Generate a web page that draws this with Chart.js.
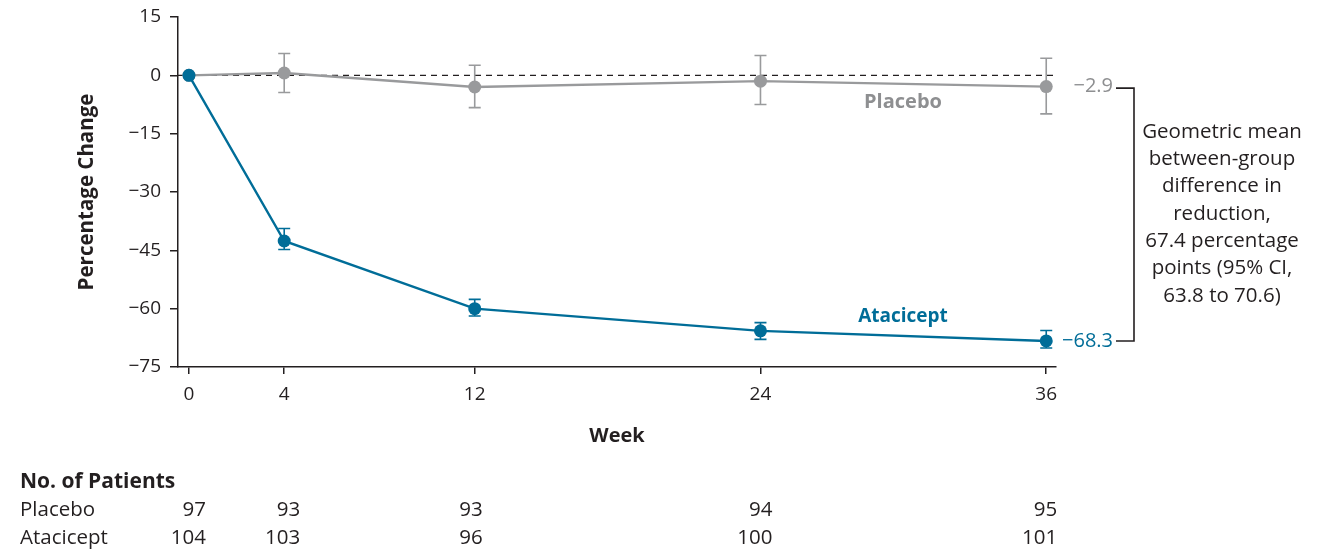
<!DOCTYPE html>
<html>
<head>
<meta charset="utf-8">
<script src="https://cdn.jsdelivr.net/npm/chart.js@4.4.1/dist/chart.umd.min.js"></script>
<style>
  html, body { margin: 0; padding: 0; background: #fff; }
  #wrap { width: 1342px; height: 555px; position: relative; }
</style>
</head>
<body>
<div id="wrap"><canvas id="chart"></canvas></div>
<script>
const weeks = [0, 4, 12, 24, 36];
const yTicks = [15, 0, -15, -30, -45, -60, -75];

const placeboMean = [0, 0.6, -3.0, -1.5, -2.9];
const placeboLow = [0, -4.4, -8.3, -7.5, -9.9];
const placeboHigh = [0, 5.6, 2.6, 5.1, 4.4];

const ataciceptMean = [0, -42.6, -60.0, -65.7, -68.3];
const ataciceptLow = [0, -44.8, -61.9, -67.9, -70.1];
const ataciceptHigh = [0, -39.4, -57.6, -63.6, -65.6];

const placeboN = [97, 93, 93, 94, 95];
const ataciceptN = [104, 103, 96, 100, 101];

const noteLines = [
  "Geometric mean",
  "between-group",
  "difference in",
  "reduction,",
  "67.4 percentage",
  "points (95% CI,",
  "63.8 to 70.6)",
];

const GRAY = "#999a9c";
const GRAY_TEXT = "#8e8f91";
const BLUE = "#006d98";
const INK = "#231f20";
const FONT = "'Open Sans', 'DejaVu Sans', sans-serif";

// right edge of each patient-count column, relative to its tick
const countShift = [17, 16, 8, 12, 11];

const minus = (v) => String(v).replace("-", "\u2212");

const extras = {
  id: "extras",
  beforeDatasetsDraw(chart) {
    const { ctx, chartArea, scales } = chart;
    const x = scales.x, y = scales.y;
    // dashed zero line
    ctx.save();
    ctx.strokeStyle = INK;
    ctx.lineWidth = 1.4;
    ctx.setLineDash([6, 5]);
    ctx.beginPath();
    ctx.moveTo(chartArea.left, y.getPixelForValue(0));
    ctx.lineTo(chartArea.right, y.getPixelForValue(0));
    ctx.stroke();
    ctx.restore();

    // error bars
    const bars = (low, high, color) => {
      ctx.save();
      ctx.strokeStyle = color;
      ctx.lineWidth = 1.6;
      weeks.forEach((w, i) => {
        if (low[i] === high[i]) return;
        const px = x.getPixelForValue(w);
        const y1 = y.getPixelForValue(low[i]);
        const y2 = y.getPixelForValue(high[i]);
        ctx.beginPath();
        ctx.moveTo(px, y1); ctx.lineTo(px, y2);
        ctx.moveTo(px - 6, y1); ctx.lineTo(px + 6, y1);
        ctx.moveTo(px - 6, y2); ctx.lineTo(px + 6, y2);
        ctx.stroke();
      });
      ctx.restore();
    };
    bars(placeboLow, placeboHigh, GRAY);
    bars(ataciceptLow, ataciceptHigh, BLUE);
  },
  afterDraw(chart) {
    const { ctx, chartArea, scales } = chart;
    const x = scales.x, y = scales.y;
    ctx.save();

    // y axis title
    ctx.fillStyle = INK;
    ctx.font = `bold 20.5px ${FONT}`;
    ctx.textAlign = "center";
    ctx.textBaseline = "middle";
    ctx.save();
    ctx.translate(87, (chartArea.top + chartArea.bottom) / 2);
    ctx.rotate(-Math.PI / 2);
    ctx.fillText("Percentage Change", 0, 0);
    ctx.restore();

    // x axis title
    ctx.font = `bold 20px ${FONT}`;
    ctx.fillText("Week", (chartArea.left + chartArea.right) / 2, 436);

    // series labels
    ctx.fillStyle = GRAY_TEXT;
    ctx.fillText("Placebo", 903, 102);
    ctx.fillStyle = BLUE;
    ctx.font = `bold 19px ${FONT}`;
    ctx.fillText("Atacicept", 903, 317);

    // end values
    const last = weeks.length - 1;
    const yP = y.getPixelForValue(placeboMean[last]);
    const yA = y.getPixelForValue(ataciceptMean[last]);
    ctx.font = `20px ${FONT}`;
    ctx.textAlign = "right";
    ctx.fillStyle = GRAY_TEXT;
    ctx.fillText(minus(placeboMean[last].toFixed(1)), 1113, yP);
    ctx.fillStyle = BLUE;
    ctx.fillText(minus(ataciceptMean[last].toFixed(1)), 1113, yA);

    // bracket
    ctx.strokeStyle = INK;
    ctx.lineWidth = 1.6;
    ctx.beginPath();
    ctx.moveTo(1116, yP + 1.5); ctx.lineTo(1134, yP + 1.5);
    ctx.lineTo(1134, yA); ctx.lineTo(1116, yA);
    ctx.stroke();

    // note
    ctx.fillStyle = INK;
    ctx.textAlign = "center";
    ctx.font = `20.5px ${FONT}`;
    const mid = (yP + yA) / 2;
    const lh = 27.3;
    noteLines.forEach((t, i) => {
      ctx.fillText(t, 1222, mid + (i - (noteLines.length - 1) / 2) * lh);
    });

    // number at risk
    ctx.textAlign = "left";
    ctx.font = `bold 21px ${FONT}`;
    ctx.fillText("No. of Patients", 20, 482);
    ctx.font = `20.5px ${FONT}`;
    ctx.fillText("Placebo", 20, 510);
    ctx.fillText("Atacicept", 20, 538);
    ctx.textAlign = "right";
    weeks.forEach((w, i) => {
      const px = x.getPixelForValue(w) + countShift[i];
      ctx.fillText(String(placeboN[i]), px, 510);
      ctx.fillText(String(ataciceptN[i]), px, 538);
    });

    ctx.restore();
  },
};

new Chart(document.getElementById("chart"), {
  type: "line",
  data: {
    datasets: [
      {
        label: "Atacicept",
        data: weeks.map((w, i) => ({ x: w, y: ataciceptMean[i] })),
        borderColor: BLUE,
        backgroundColor: BLUE,
        borderWidth: 2.4,
        pointRadius: 6.5,
        pointBorderWidth: 0,
        tension: 0,
      },
      {
        label: "Placebo",
        data: weeks.map((w, i) => ({ x: w, y: placeboMean[i] })),
        borderColor: GRAY,
        backgroundColor: GRAY,
        borderWidth: 2.4,
        pointRadius: 6.5,
        pointBorderWidth: 0,
        tension: 0,
      },
    ],
  },
  options: {
    responsive: true,
    maintainAspectRatio: false,
    animation: false,
    layout: { padding: { left: 0, top: 17, right: 1342 - 1056, bottom: 555 - 367 - 44 } },
    plugins: { legend: { display: false }, tooltip: { enabled: false } },
    scales: {
      x: {
        type: "linear",
        min: -0.46,
        max: 36.41,
        afterBuildTicks: (s) => { s.ticks = weeks.map((v) => ({ value: v })); },
        afterFit: (s) => { s.height = 44; },
        grid: { drawOnChartArea: false, drawTicks: true, tickLength: 7, color: INK, lineWidth: 1.5 },
        border: { display: true, color: INK, width: 1.5 },
        ticks: { color: INK, font: { family: FONT, size: 19 }, padding: 9, maxRotation: 0 },
      },
      y: {
        min: -75,
        max: 15,
        afterBuildTicks: (s) => { s.ticks = yTicks.map((v) => ({ value: v })); },
        afterFit: (s) => { s.width = 178; },
        grid: { drawOnChartArea: false, drawTicks: true, tickLength: 8, color: INK, lineWidth: 1.5 },
        border: { display: true, color: INK, width: 1.5 },
        ticks: { color: INK, font: { family: FONT, size: 19, lineHeight: 0.8 }, padding: 9, callback: (v) => minus(v) },
      },
    },
  },
  plugins: [extras],
});
</script>
</body>
</html>
